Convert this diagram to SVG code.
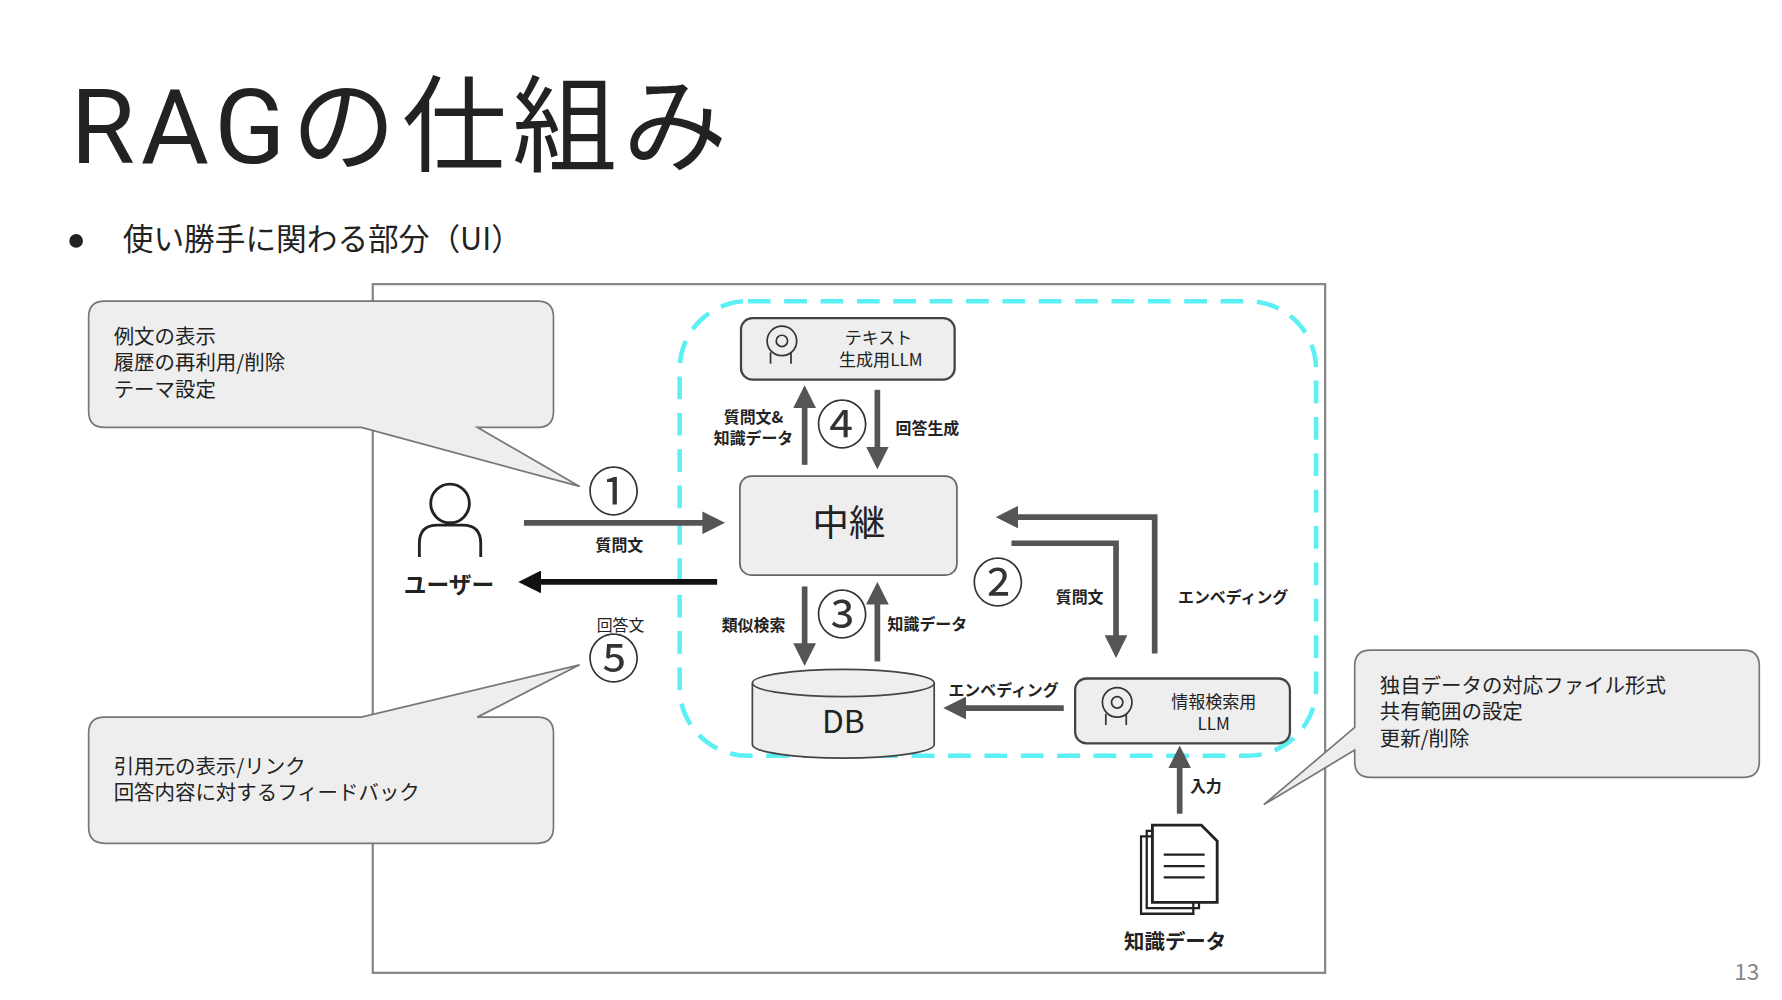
<svg xmlns="http://www.w3.org/2000/svg" width="1782" height="1000" viewBox="0 0 1782 1000">
<style>
text{font-family:"Noto Sans CJK JP","Noto Sans",sans-serif;fill:#222}
.s{font-size:14px;font-weight:bold}
.c{font-size:18px}
.box{fill:#eeeeee;stroke:#444;stroke-width:2}
.call{fill:#eeeeee;stroke:#777;stroke-width:1.5}
.ar{stroke:#555;stroke-width:5;fill:none}
.num{font-size:46px;fill:#333;text-anchor:middle}
</style>
<defs>
<marker id="ah" markerWidth="4" markerHeight="4" refX="2" refY="2" orient="auto" markerUnits="strokeWidth"><path d="M0,0L4,2L0,4Z" fill="#555"/></marker>
<marker id="ahk" markerWidth="4" markerHeight="4" refX="2" refY="2" orient="auto" markerUnits="strokeWidth"><path d="M0,0L4,2L0,4Z" fill="#111"/></marker>
<g id="brain"><circle cx="0" cy="0" r="13" fill="none" stroke="#333" stroke-width="1.5"/><circle cx="0" cy="0" r="5" fill="none" stroke="#333" stroke-width="1.5"/><path d="M-10,10 L-10,20 M8,10 L8,20" stroke="#333" stroke-width="1.5"/></g>
</defs>
<rect width="1782" height="1000" fill="#fff"/>
<g transform="scale(1.1365)">
<text x="62" y="143" style="font-size:92px;font-family:Roboto,'Noto Sans CJK JP',sans-serif" textLength="578">RAGの仕組み</text>
<circle cx="67" cy="212" r="6" fill="#222"/>
<text x="108" y="220" style="font-size:27px">使い勝手に関わる部分（UI）</text>
<rect x="328" y="250" width="838" height="606" fill="none" stroke="#888" stroke-width="2"/>
<rect x="598" y="265" width="560" height="400" rx="60" fill="none" stroke="#5cf0f5" stroke-width="4" stroke-dasharray="20 12"/>

<g id="callout1"><path class="call" d="M92,265H473Q487,265 487,279V362Q487,376 473,376H420L510,428L318,376H92Q78,376 78,362V279Q78,265 92,265Z"/>
<text class="c" x="100" y="303">例文の表示</text><text class="c" x="100" y="326">履歴の再利用/削除</text><text class="c" x="100" y="349">テーマ設定</text></g>
<g id="callout2"><path class="call" d="M92,631H318L510,585L420,631H473Q487,631 487,645V728Q487,742 473,742H92Q78,742 78,728V645Q78,631 92,631Z"/>
<text class="c" x="100" y="681">引用元の表示/リンク</text><text class="c" x="100" y="704">回答内容に対するフィードバック</text></g>
<g id="callout3"><path class="call" d="M1206,572H1534Q1548,572 1548,586V670Q1548,684 1534,684H1206Q1192,684 1192,670V660L1112,708L1192,640V586Q1192,572 1206,572Z"/>
<text class="c" x="1214" y="610">独自データの対応ファイル形式</text><text class="c" x="1214" y="633">共有範囲の設定</text><text class="c" x="1214" y="656">更新/削除</text></g>

<g id="textllm"><rect class="box" x="652" y="280" width="188" height="54" rx="10"/><use href="#brain" x="688" y="300"/>
<text x="773" y="303" text-anchor="middle" style="font-size:15px">テキスト</text><text x="775" y="322" text-anchor="middle" style="font-size:15px">生成用LLM</text></g>
<g id="relay"><rect class="box" x="651" y="419" width="191" height="87" rx="10" style="stroke:#666;stroke-width:1.5"/><text x="747" y="472" text-anchor="middle" style="font-size:32px">中継</text></g>
<g id="db"><path d="M662,601V655A80,12 0 0 0 822,655V601" fill="#eee" stroke="#444" stroke-width="1.5"/><ellipse cx="742" cy="601" rx="80" ry="12" fill="#eee" stroke="#444" stroke-width="1.5"/><text x="742" y="645" text-anchor="middle" style="font-size:28px">DB</text></g>
<g id="searchllm"><rect class="box" x="946" y="597" width="189" height="57" rx="10"/><use href="#brain" x="983" y="618"/>
<text x="1068" y="623" text-anchor="middle" style="font-size:15px">情報検索用</text><text x="1068" y="642" text-anchor="middle" style="font-size:15px">LLM</text></g>
<g id="user"><circle cx="396" cy="443" r="17" fill="#fff" stroke="#222" stroke-width="2.5"/><path d="M369,490V478Q369,462 385,462H407Q423,462 423,478V490" fill="none" stroke="#222" stroke-width="2.5"/>
<text x="395" y="522" text-anchor="middle" style="font-size:20px;font-weight:bold">ユーザー</text></g>
<g id="doc"><path d="M1004,736H1050V804H1004Z M1009,731H1055V799H1009Z" fill="#fff" stroke="#222" stroke-width="2"/><path d="M1014,726H1057L1071,740V794H1014Z" fill="#fff" stroke="#222" stroke-width="2.5"/><path d="M1024,752H1060M1024,762H1060M1024,772H1060" stroke="#222" stroke-width="2"/>
<text x="1034" y="835" text-anchor="middle" style="font-size:18px;font-weight:bold">知識データ</text></g>

<g id="connectors">
<line class="ar" x1="461" y1="460" x2="628" y2="460" marker-end="url(#ah)"/>
<line x1="631" y1="512" x2="466" y2="512" stroke="#111" stroke-width="5" marker-end="url(#ahk)"/>
<line class="ar" x1="708" y1="409" x2="708" y2="349" marker-end="url(#ah)"/>
<line class="ar" x1="772" y1="343" x2="772" y2="403" marker-end="url(#ah)"/>
<line class="ar" x1="708" y1="516" x2="708" y2="576" marker-end="url(#ah)"/>
<line class="ar" x1="772" y1="582" x2="772" y2="522" marker-end="url(#ah)"/>
<path class="ar" d="M1016,575V455H886" marker-end="url(#ah)"/>
<path class="ar" d="M890,478H982V569" marker-end="url(#ah)"/>
<line class="ar" x1="936" y1="623" x2="840" y2="623" marker-end="url(#ah)"/>
<line class="ar" x1="1038" y1="716" x2="1038" y2="666" marker-end="url(#ah)"/>
</g>
<g id="labels">
<text class="s" x="545" y="485" text-anchor="middle">質問文</text>
<text class="s" x="663" y="372" text-anchor="middle">質問文&amp;</text><text class="s" x="663" y="391" text-anchor="middle">知識データ</text>
<text class="s" x="816" y="382" text-anchor="middle">回答生成</text>
<text class="s" x="663" y="555" text-anchor="middle">類似検索</text>
<text class="s" x="816" y="554" text-anchor="middle">知識データ</text>
<text class="s" x="950" y="531" text-anchor="middle">質問文</text>
<text class="s" x="1085" y="531" text-anchor="middle">エンベディング</text>
<text class="s" x="883" y="612" text-anchor="middle">エンベディング</text>
<text class="s" x="1061" y="697" text-anchor="middle">入力</text>
<text x="546" y="555" text-anchor="middle" style="font-size:14px">回答文</text>
</g>
<g id="nums">
<text class="num" x="540" y="450">①</text><text class="num" x="741" y="391">④</text><text class="num" x="878" y="530">②</text><text class="num" x="741" y="558">③</text><text class="num" x="540" y="597">⑤</text>
</g>
<text x="1537" y="862" text-anchor="middle" style="font-size:20px;fill:#888">13</text>
</g>
</svg>
